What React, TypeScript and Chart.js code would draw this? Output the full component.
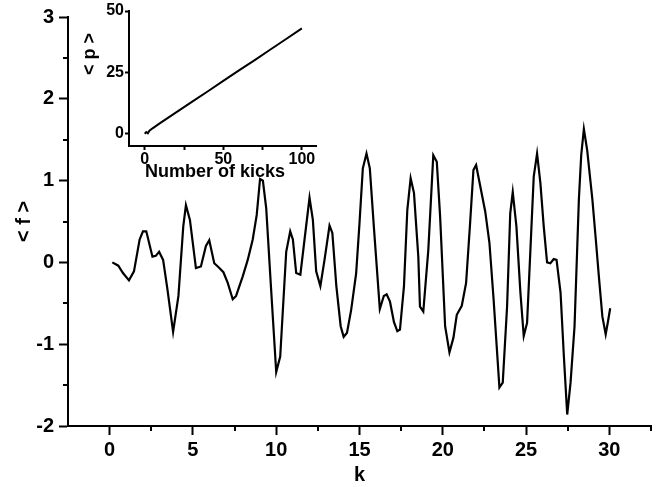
import React, { useEffect, useRef } from "react";
import { Chart, registerables } from "chart.js";

Chart.register(...registerables);

// ---- Main chart data: <f> versus k ----
const kValues = [
  0.16, 0.52, 0.8, 1.16, 1.46, 1.8, 2.0, 2.2, 2.57, 2.77, 2.97, 3.21, 3.47, 3.81, 4.13, 4.42, 4.58, 4.82,
  5.18, 5.48, 5.78, 5.98, 6.28, 6.54, 6.83, 7.09, 7.39, 7.59, 7.99, 8.29, 8.59, 8.83, 9.03, 9.2, 9.4, 9.7,
  10.0, 10.24, 10.6, 10.84, 11.0, 11.2, 11.45, 11.7, 12.0, 12.2, 12.4, 12.65, 12.9, 13.2, 13.37, 13.61,
  13.87, 14.05, 14.25, 14.5, 14.8, 15.0, 15.2, 15.42, 15.62, 15.86, 16.22, 16.46, 16.63, 16.83, 17.07,
  17.27, 17.43, 17.67, 17.87, 18.07, 18.27, 18.53, 18.63, 18.83, 19.13, 19.43, 19.64, 19.84, 20.14, 20.4,
  20.64, 20.84, 21.14, 21.4, 21.64, 21.84, 22.0, 22.25, 22.55, 22.8, 23.05, 23.4, 23.6, 23.86, 24.05, 24.2,
  24.42, 24.66, 24.86, 25.06, 25.26, 25.46, 25.66, 25.86, 26.06, 26.26, 26.46, 26.66, 26.83, 27.07, 27.27,
  27.47, 27.67, 27.91, 28.17, 28.31, 28.47, 28.67, 28.98, 29.17, 29.37, 29.58, 29.78, 29.92, 30.05,
];
const fValues = [
  0.0, -0.04, -0.13, -0.22, -0.11, 0.28, 0.38, 0.38, 0.07, 0.08, 0.13, 0.03, -0.33, -0.85, -0.41, 0.44, 0.7, 0.52,
  -0.07, -0.05, 0.2, 0.27, -0.01, -0.06, -0.12, -0.25, -0.45, -0.41, -0.17, 0.03, 0.28, 0.58, 1.02, 1.0, 0.66, -0.35,
  -1.34, -1.15, 0.13, 0.38, 0.28, -0.13, -0.15, 0.28, 0.79, 0.52, -0.11, -0.29, 0.03, 0.45, 0.36, -0.29,
  -0.78, -0.91, -0.86, -0.58, -0.13, 0.48, 1.15, 1.33, 1.15, 0.44, -0.57, -0.41, -0.39, -0.48, -0.73,
  -0.84, -0.82, -0.29, 0.64, 1.03, 0.85, 0.07, -0.54, -0.6, 0.15, 1.31, 1.23, 0.56, -0.78, -1.1,
  -0.92, -0.64, -0.53, -0.25, 0.48, 1.13, 1.19, 0.93, 0.62, 0.24, -0.45, -1.53, -1.47, -0.54, 0.6, 0.86,
  0.44, -0.37, -0.9, -0.74, 0.15, 1.05, 1.33, 0.97, 0.44, 0.0, -0.01, 0.04, 0.03, -0.37, -1.15,
  -1.86, -1.47, -0.78, 0.77, 1.31, 1.63, 1.37, 0.77, 0.32, -0.17, -0.66, -0.88, -0.72, -0.56,
];
const xMajorTicks = [0, 5, 10, 15, 20, 25, 30];
const xMinorTicks = [2.5, 7.5, 12.5, 17.5, 22.5, 27.5, 32.5];
const yMajorTicks = [-2, -1, 0, 1, 2, 3];
const yMinorTicks = [-1.5, -0.5, 0.5, 1.5, 2.5];

// ---- Inset data: <p> versus number of kicks ----
const kickValues = [0, 1, 2, 3, 5, 10, 20, 30, 40, 50, 60, 70, 80, 90, 100];
const pValues = [0, 0.7, 0.2, 1.2, 2.2, 4.4, 8.7, 13.0, 17.2, 21.5, 25.8, 30.0, 34.3, 38.6, 42.9];
const insetXTicks = [0, 25, 50, 75, 100];
const insetXLabels = [0, 50, 100];
const insetYTicks = [0, 25, 50];

const FONT = "'Liberation Sans', Arial, Helvetica, sans-serif";

const minorTickPlugin = (specs: { id: string; values: number[]; len: number }[]) => ({
  id: "minorTicks",
  afterDraw(chart: any) {
    const ctx = chart.ctx;
    ctx.save();
    ctx.strokeStyle = "#000";
    ctx.lineWidth = 2;
    for (const s of specs) {
      const scale = chart.scales[s.id];
      for (const v of s.values) {
        const p = Math.round(scale.getPixelForValue(v));
        ctx.beginPath();
        if (scale.isHorizontal()) {
          const y = chart.chartArea.bottom;
          ctx.moveTo(p, y);
          ctx.lineTo(p, y + s.len);
        } else {
          const x = chart.chartArea.left;
          ctx.moveTo(x, p);
          ctx.lineTo(x - s.len, p);
        }
        ctx.stroke();
      }
    }
    ctx.restore();
  },
});

const insetTitlePlugin = {
  id: "insetTitles",
  afterDraw(chart: any) {
    const ctx = chart.ctx;
    ctx.save();
    ctx.fillStyle = "#000";
    ctx.font = `bold 18px ${FONT}`;
    ctx.textAlign = "center";
    ctx.textBaseline = "middle";
    ctx.fillText("Number of kicks", 135, 172);
    ctx.translate(10, 54);
    ctx.rotate(-Math.PI / 2);
    ctx.fillText("< p >", 0, 0);
    ctx.restore();
  },
};

export default function App() {
  const mainRef = useRef<HTMLCanvasElement>(null);
  const insetRef = useRef<HTMLCanvasElement>(null);

  useEffect(() => {
    const mainChart = new Chart(mainRef.current!, {
      type: "line",
      data: {
        datasets: [
          {
            data: kValues.map((k, i) => ({ x: k, y: fValues[i] })),
            borderColor: "#000",
            borderWidth: 2.2,
            pointRadius: 0,
            tension: 0,
            fill: false,
          },
        ],
      },
      options: {
        animation: false,
        responsive: false,
        events: [],
        layout: { padding: { top: 17, right: 21, bottom: 0, left: 0 } },
        plugins: { legend: { display: false }, tooltip: { enabled: false } },
        scales: {
          x: {
            type: "linear",
            min: -2.5,
            max: 32.5,
            afterBuildTicks: (s: any) => {
              s.ticks = xMajorTicks.map((v) => ({ value: v }));
            },
            afterFit: (s: any) => {
              s.height = 61;
            },
            border: { display: true, color: "#000", width: 2 },
            grid: { display: true, drawOnChartArea: false, tickLength: 9, tickColor: "#000", tickWidth: 2 },
            ticks: {
              autoSkip: false,
              maxRotation: 0,
              padding: 3,
              color: "#000",
              font: { family: FONT, size: 20, weight: "bold" },
              callback: (v: any) => String(v),
            },
            title: {
              display: true,
              text: "k",
              color: "#000",
              padding: { top: 0, bottom: 0 },
              font: { family: FONT, size: 20, weight: "bold" },
            },
          },
          y: {
            type: "linear",
            min: -2,
            max: 3,
            afterBuildTicks: (s: any) => {
              s.ticks = yMajorTicks.map((v) => ({ value: v }));
            },
            afterFit: (s: any) => {
              s.width = 68;
            },
            border: { display: true, color: "#000", width: 2 },
            grid: { display: true, drawOnChartArea: false, tickLength: 9, tickColor: "#000", tickWidth: 2 },
            ticks: {
              autoSkip: false,
              padding: 5,
              color: "#000",
              font: { family: FONT, size: 20, weight: "bold" },
              callback: (v: any) => String(v),
            },
            title: {
              display: true,
              text: "< f >",
              color: "#000",
              padding: { top: 12, bottom: 0 },
              font: { family: FONT, size: 20, weight: "bold" },
            },
          },
        },
      },
      plugins: [
        minorTickPlugin([
          { id: "x", values: xMinorTicks, len: 5 },
          { id: "y", values: yMinorTicks, len: 5 },
        ]),
      ],
    } as any);

    const insetChart = new Chart(insetRef.current!, {
      type: "line",
      data: {
        datasets: [
          {
            data: kickValues.map((n, i) => ({ x: n, y: pValues[i] })),
            borderColor: "#000",
            borderWidth: 2,
            pointRadius: 0,
            tension: 0,
            fill: false,
          },
        ],
      },
      options: {
        animation: false,
        responsive: false,
        events: [],
        layout: { padding: { top: 11, right: 14, bottom: 0, left: 0 } },
        plugins: { legend: { display: false }, tooltip: { enabled: false } },
        scales: {
          x: {
            type: "linear",
            min: -10,
            max: 109,
            afterBuildTicks: (s: any) => {
              s.ticks = insetXTicks.map((v) => ({ value: v }));
            },
            afterFit: (s: any) => {
              s.height = 44;
            },
            border: { display: true, color: "#000", width: 2 },
            grid: { display: true, drawOnChartArea: false, tickLength: 4, tickColor: "#000", tickWidth: 2 },
            ticks: {
              autoSkip: false,
              maxRotation: 0,
              padding: 0,
              color: "#000",
              font: { family: FONT, size: 16, weight: "bold" },
              callback: (v: any) => (insetXLabels.includes(v) ? String(v) : ""),
            },
          },
          y: {
            type: "linear",
            min: -5,
            max: 50,
            afterBuildTicks: (s: any) => {
              s.ticks = insetYTicks.map((v) => ({ value: v }));
            },
            afterFit: (s: any) => {
              s.width = 49;
            },
            border: { display: true, color: "#000", width: 2 },
            grid: { display: true, drawOnChartArea: false, tickLength: 4, tickColor: "#000", tickWidth: 2 },
            ticks: {
              autoSkip: false,
              padding: 1,
              color: "#000",
              font: { family: FONT, size: 16, weight: "bold" },
              callback: (v: any) => String(v),
            },
          },
        },
      },
      plugins: [insetTitlePlugin],
    } as any);

    return () => {
      mainChart.destroy();
      insetChart.destroy();
    };
  }, []);

  return (
    <div style={{ position: "fixed", left: 0, top: 0, width: 672, height: 487, background: "#fff" }}>
      <canvas ref={mainRef} width={672} height={487} style={{ position: "absolute", left: 0, top: 0 }} />
      <canvas ref={insetRef} width={250} height={190} style={{ position: "absolute", left: 80, top: 0 }} />
    </div>
  );
}
